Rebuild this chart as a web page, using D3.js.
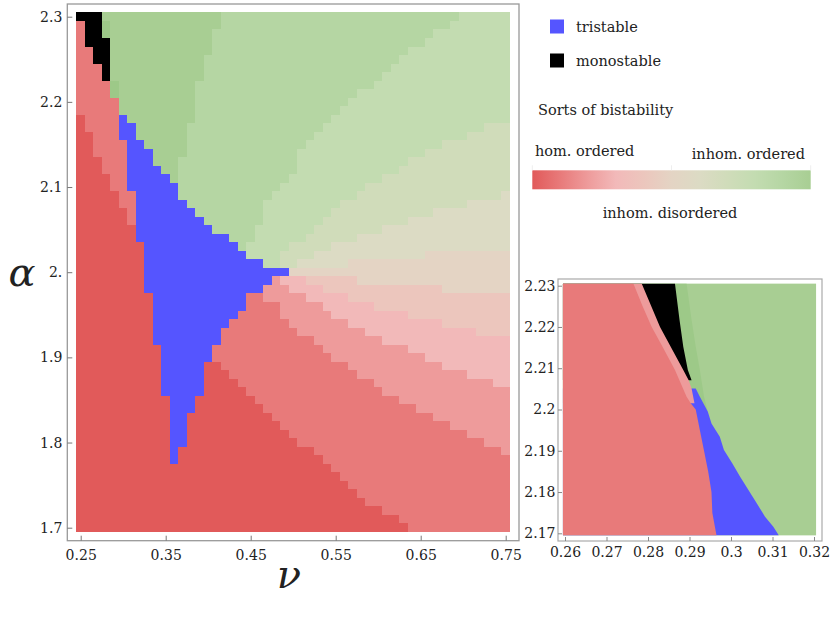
<!DOCTYPE html>
<html>
<head>
<meta charset="utf-8">
<script src="https://cdn.jsdelivr.net/npm/d3@7"></script>
<style>
  body { margin: 0; background: #fff; }
  svg text { font-family: "DejaVu Serif", "Liberation Serif", serif; fill: #222; }
</style>
</head>
<body>
<div id="chart-area"></div>
<script>
// ---- data ----
// main plot grid: nu 0.25..0.75 step 0.01, alpha 2.30..1.70 step 0.01
const nuValues = d3.range(51).map(i => +(0.25 + i * 0.01).toFixed(2))
const alphaValues = d3.range(61).map(j => +(2.30 - j * 0.01).toFixed(2))

// each row: runs "code + last column index"
// a..l = bistable shades (hom. ordered -> inhom. disordered -> inhom. ordered), B = tristable, K = monostable
const mainRows = [
  "K2 k16 j44 i50",
  "b0 K2 l3 k16 j43 i50",
  "b0 K2 l3 k15 j41 i50",
  "b0 K3 k15 j40 i50",
  "b1 K3 k15 j38 i50",
  "b1 K3 k14 j37 i50",
  "b2 K3 k14 j36 i50",
  "b2 K3 k14 j35 i50",
  "b3 l4 k13 j34 i50",
  "b3 l4 k13 j32 i50",
  "b4 k13 j31 i50",
  "b4 k13 j30 i50",
  "a0 b4 B5 k13 j29 i50",
  "a0 b4 B6 k12 j28 i47 h50",
  "a1 b4 B6 k12 j27 i45 h50",
  "a1 b5 B7 k12 j26 i42 h50",
  "a1 b5 B8 k12 j25 i40 h50",
  "a2 b5 B8 k11 j25 i38 h50",
  "a2 b5 B9 k11 j25 i37 h50",
  "a3 b5 B10 k11 j24 i35 h50",
  "a3 b5 B11 j23 i33 h50",
  "a4 b6 B11 j22 i32 h49 g50",
  "a4 b6 B12 j21 i30 h45 g50",
  "a5 b6 B13 j21 i29 h41 g50",
  "a5 b6 B14 j21 i28 h38 g50",
  "a6 B15 j20 i27 h35 g50",
  "a6 B17 j20 i26 h32 g50",
  "a7 B18 j19 i24 h29 g50",
  "a7 B19 i23 h27 g40 f50",
  "a7 B21 i23 h25 g31 f50",
  "a7 B24 f50",
  "a7 B22 c23 d26 e32 f50",
  "a7 B21 c24 d28 e42 f50",
  "a8 B19 b21 c26 d31 e50",
  "a8 B19 b23 c28 d34 e50",
  "a8 B18 b23 c29 d38 e50",
  "a8 B17 b24 c31 d42 e50",
  "a8 B16 b25 c33 d46 e50",
  "a8 B16 b27 c35 d50",
  "a9 B15 b28 c38 d50",
  "a9 B15 b29 c40 d50",
  "a9 B14 a16 b31 c42 d50",
  "a9 B14 a17 b32 c45 d50",
  "a9 B14 a18 b34 c48 d50",
  "a9 B14 a19 b35 c50",
  "a10 B13 a20 b37 c50",
  "a10 B13 a21 b39 c50",
  "a10 B12 a22 b41 c50",
  "a10 B12 a23 b43 c50",
  "a10 B12 a24 b45 c50",
  "a10 B12 a25 b47 c50",
  "a10 B11 a27 b49 c50",
  "a10 B11 a28 b50",
  "a29 b50",
  "a30 b50",
  "a31 b50",
  "a32 b50",
  "a33 b50",
  "a35 b50",
  "a37 b50",
  "a38 b50"
]

const mainXTicks = [0.25, 0.35, 0.45, 0.55, 0.65, 0.75]
const mainXLabels = ["0.25", "0.35", "0.45", "0.55", "0.65", "0.75"]
const mainYTicks = [1.7, 1.8, 1.9, 2.0, 2.1, 2.2, 2.3]
const mainYLabels = ["1.7", "1.8", "1.9", "2.", "2.1", "2.2", "2.3"]

// inset (zoom near the monostable tip): boundary edges as [alpha, nu]
const insetRedEdge = [[2.2305,0.2765],[2.225,0.2787],[2.22,0.2809],[2.215,0.2836],[2.2096,0.2865],[2.2031,0.2893],
  [2.2015,0.2903],[2.2,0.2915],[2.195,0.2925],[2.19,0.2935],[2.185,0.2945],[2.18,0.2953],[2.175,0.2955],[2.1695,0.2965]]
const insetPinkEdge = [[2.2305,0.2785],[2.22,0.2829],[2.2096,0.2885],[2.2071,0.2898],[2.2051,0.2905],[2.2015,0.2912]]
const insetBlackEdge = [[2.2305,0.2865],[2.2217,0.2876],[2.2152,0.2885],[2.2096,0.2896],[2.2071,0.2905]]
const insetG0Edge = [[2.2305,0.2893],[2.2217,0.2905],[2.2152,0.2915],[2.2096,0.2925],[2.2031,0.2935],[2.1995,0.2944],[2.199,0.2944]]
const insetBlueEdge = [[2.2051,0.2915],[2.2031,0.2925],[2.1995,0.2944],[2.1966,0.2953],[2.1934,0.2973],[2.1902,0.2983],
  [2.187,0.3003],[2.1837,0.3022],[2.1805,0.3042],[2.1773,0.3062],[2.174,0.3082],[2.1716,0.3102],[2.1695,0.3115]]

const insetXTicks = [0.26, 0.27, 0.28, 0.29, 0.30, 0.31, 0.32]
const insetXLabels = ["0.26", "0.27", "0.28", "0.29", "0.3", "0.31", "0.32"]
const insetYTicks = [2.17, 2.18, 2.19, 2.20, 2.21, 2.22, 2.23]
const insetYLabels = ["2.17", "2.18", "2.19", "2.2", "2.21", "2.22", "2.23"]

const legendItems = ["tristable", "monostable"]
const gradientLabels = ["hom. ordered", "inhom. ordered", "inhom. disordered"]

// ---- styles ----
const serif = '"DejaVu Serif", "Liberation Serif", serif'
const levelCodes = ["a","b","c","d","e","f","g","h","i","j","k","l"]
const levelColors = ["#e15a5a","#e87a7a","#ee9b9b","#f2b9b9","#ecc6bd","#e4d4c4",
                     "#dcdbc4","#d0dcba","#c3dcb1","#b5d6a3","#a8ce93","#9dc988"]
const colorOf = d3.scaleOrdinal()
  .domain(levelCodes.concat(["B", "K"]))
  .range(levelColors.concat(["#5555ff", "#000000"]))

const svg = d3.select("#chart-area").append("svg")
  .attr("width", 830)
  .attr("height", 629)

// ---- main plot ----
const x = d3.scaleLinear().domain([0.25, 0.75]).range([80.7, 505.7])
const y = d3.scaleLinear().domain([1.7, 2.3]).range([527.7, 16.7])
const halfStep = 0.005

const cells = []
mainRows.forEach((row, r) => {
  let start = 0
  row.split(" ").forEach(tok => {
    const end = +tok.slice(1)
    cells.push({ alpha: alphaValues[r], code: tok[0], i0: start, i1: end })
    start = end + 1
  })
})

const main = svg.append("g")
main.selectAll("rect.cell")
  .data(cells)
  .enter().append("rect")
  .attr("class", "cell")
  .attr("x", d => x(nuValues[d.i0] - halfStep))
  .attr("width", d => x(nuValues[d.i1] + halfStep) - x(nuValues[d.i0] - halfStep))
  .attr("y", d => y(d.alpha + halfStep))
  .attr("height", d => y(d.alpha - halfStep) - y(d.alpha + halfStep) + 0.4)
  .attr("fill", d => colorOf(d.code))
  .attr("shape-rendering", "crispEdges")

const frame = { left: 67.3, right: 519, top: 4, bottom: 540.7 }
main.append("rect")
  .attr("x", frame.left).attr("y", frame.top)
  .attr("width", frame.right - frame.left).attr("height", frame.bottom - frame.top)
  .attr("fill", "none").attr("stroke", "#999").attr("stroke-width", 1.3)

const xAxis = main.append("g")
  .attr("transform", `translate(0,${frame.bottom})`)
  .call(d3.axisBottom(x).tickValues(mainXTicks).tickSize(-5).tickPadding(9)
        .tickFormat((d, i) => mainXLabels[i]))
const yAxis = main.append("g")
  .attr("transform", `translate(${frame.left},0)`)
  .call(d3.axisLeft(y).tickValues(mainYTicks).tickSize(-5).tickPadding(5)
        .tickFormat((d, i) => mainYLabels[i]))

;[xAxis, yAxis].forEach(ax => {
  ax.attr("font-family", null)
  ax.select(".domain").remove()
  ax.selectAll(".tick line").attr("stroke", "#777")
  ax.selectAll(".tick text")
    .style("font-family", serif)
    .style("font-size", "14px").attr("fill", "#222")
})

svg.append("text")
  .attr("x", 22).attr("y", 286)
  .attr("text-anchor", "middle")
  .style("font-family", serif)
  .style("font-size", "40px").style("font-style", "italic")
  .text("α")
svg.append("text")
  .attr("x", 289).attr("y", 588)
  .attr("text-anchor", "middle")
  .style("font-family", serif)
  .style("font-size", "40px").style("font-style", "italic")
  .text("ν")

// ---- inset ----
const xI = d3.scaleLinear().domain([0.26, 0.32]).range([565, 814])
const yI = d3.scaleLinear().domain([2.17, 2.23]).range([533.3, 285.7])
const nuLeft = 0.2595, nuRight = 0.3205, alphaLow = 2.1695, alphaHigh = 2.2305

const inset = svg.append("g")
inset.append("rect")
  .attr("x", xI(nuLeft)).attr("y", yI(alphaHigh))
  .attr("width", xI(nuRight) - xI(nuLeft)).attr("height", yI(alphaLow) - yI(alphaHigh))
  .attr("fill", colorOf("k"))

const edgeArea = d3.area()
  .y(d => yI(d[0]))
  .x0(xI(nuLeft))
  .x1(d => xI(d[1]))

const insetLayers = [
  { edge: insetG0Edge, code: "l" },
  { edge: insetBlueEdge, code: "B" },
  { edge: insetBlackEdge, code: "K" },
  { edge: insetPinkEdge, code: "c" },
  { edge: insetRedEdge, code: "b" }
]
inset.selectAll("path.layer")
  .data(insetLayers)
  .enter().append("path")
  .attr("class", "layer")
  .attr("d", d => edgeArea(d.edge))
  .attr("fill", d => colorOf(d.code))

const iframe = { left: 558, right: 822, top: 279, bottom: 541 }
inset.append("rect")
  .attr("x", iframe.left).attr("y", iframe.top)
  .attr("width", iframe.right - iframe.left).attr("height", iframe.bottom - iframe.top)
  .attr("fill", "none").attr("stroke", "#aaa").attr("stroke-width", 1.2)

const xAxisI = inset.append("g")
  .attr("transform", `translate(0,${iframe.bottom})`)
  .call(d3.axisBottom(xI).tickValues(insetXTicks).tickSize(-4).tickPadding(6)
        .tickFormat((d, i) => insetXLabels[i]))
const yAxisI = inset.append("g")
  .attr("transform", `translate(${iframe.left},0)`)
  .call(d3.axisLeft(yI).tickValues(insetYTicks).tickSize(-4).tickPadding(2.5)
        .tickFormat((d, i) => insetYLabels[i]))

;[xAxisI, yAxisI].forEach(ax => {
  ax.attr("font-family", null)
  ax.select(".domain").remove()
  ax.selectAll(".tick line").attr("stroke", "#888")
  ax.selectAll(".tick text")
    .style("font-family", serif)
    .style("font-size", "14px").attr("fill", "#222")
})

// ---- legend ----
const legend = svg.append("g").style("font-family", serif)
const legendY = d3.scaleOrdinal().domain(legendItems).range([19.5, 53.5])
legend.selectAll("rect.swatch")
  .data(legendItems)
  .enter().append("rect")
  .attr("class", "swatch")
  .attr("x", 550).attr("y", d => legendY(d))
  .attr("width", 14).attr("height", 14)
  .attr("fill", (d, i) => colorOf(i === 0 ? "B" : "K"))
legend.selectAll("text.item")
  .data(legendItems)
  .enter().append("text")
  .attr("class", "item")
  .attr("x", 576).attr("y", d => legendY(d) + 12)
  .style("font-size", "14.5px")
  .text(d => d)

legend.append("text")
  .attr("x", 538).attr("y", 115)
  .style("font-size", "14.5px")
  .text("Sorts of bistability")

const defs = svg.append("defs")
const grad = defs.append("linearGradient").attr("id", "bistab")
const gradColors = levelColors.slice(0, 11)
grad.selectAll("stop")
  .data(gradColors)
  .enter().append("stop")
  .attr("offset", (d, i) => i / (gradColors.length - 1))
  .attr("stop-color", d => d)

const bar = { left: 532.3, right: 810.7, top: 170.3, bottom: 189.3 }
legend.append("rect")
  .attr("x", bar.left).attr("y", bar.top)
  .attr("width", bar.right - bar.left).attr("height", bar.bottom - bar.top)
  .attr("fill", "url(#bistab)")
legend.selectAll("line.gtick")
  .data([0, 0.5, 1])
  .enter().append("line")
  .attr("class", "gtick")
  .attr("x1", d => bar.left + d * (bar.right - bar.left))
  .attr("x2", d => bar.left + d * (bar.right - bar.left))
  .attr("y1", bar.top - 5).attr("y2", bar.top)
  .attr("stroke", "#eee")

legend.append("text").attr("x", 535).attr("y", 156)
  .style("font-size", "14.5px").text(gradientLabels[0])
legend.append("text").attr("x", 805).attr("y", 158.5).attr("text-anchor", "end")
  .style("font-size", "14.5px").text(gradientLabels[1])
legend.append("text").attr("x", 670).attr("y", 217.5).attr("text-anchor", "middle")
  .style("font-size", "14.5px").text(gradientLabels[2])
</script>
</body>
</html>
